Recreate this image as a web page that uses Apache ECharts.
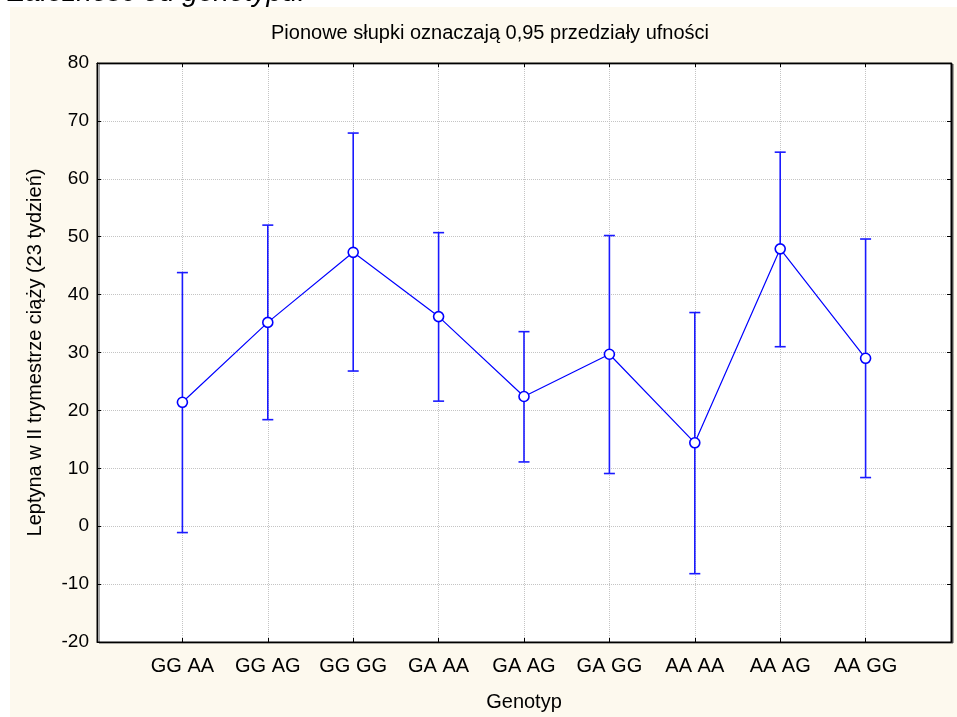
<!DOCTYPE html>
<html>
<head>
<meta charset="utf-8">
<script src="https://cdn.jsdelivr.net/npm/echarts@6/dist/echarts.min.js"></script>
<style>
  html, body { margin: 0; padding: 0; background: #ffffff; overflow: hidden; }
  #panel { position: absolute; left: 10px; top: 7px; width: 947px; height: 710px; background: #fdf9ee; }
  #chart { position: absolute; left: 0; top: 0; width: 957px; height: 717px; }
</style>
</head>
<body>
<div id="panel"></div>
<div id="chart"></div>
<script>
// Genotype groups (x axis)
const categories = ['GG AA', 'GG AG', 'GG GG', 'GA AA', 'GA AG', 'GA GG', 'AA AA', 'AA AG', 'AA GG'];
// Mean leptin level per group
const means = [21.4, 35.2, 47.3, 36.2, 22.4, 29.7, 14.4, 47.9, 29.0];
// 0.95 confidence interval bounds
const upperCI = [43.8, 52.0, 67.9, 50.7, 33.6, 50.2, 36.9, 64.6, 49.6];
const lowerCI = [-1.1, 18.4, 26.8, 21.6, 11.1, 9.1, -8.2, 31.0, 8.4];
// Y axis ticks
const yTicks = [-20, -10, 0, 10, 20, 30, 40, 50, 60, 70, 80];

const FONT = 'Liberation Sans, Arial, sans-serif';
const BLUE = '#0000ff';

const meanPoints = categories.map((c, i) => [i + 1, means[i]]);
const ciPoints = categories.map((c, i) => [i + 1, lowerCI[i], upperCI[i]]);

const dotted = { color: '#c4c4c4', type: [1, 1], width: 1 };
const tickIn = { show: true, inside: true, length: 4, lineStyle: { color: '#000' } };
const frameLine = { show: true, onZero: false, lineStyle: { color: '#000' } };

const chart = echarts.init(document.getElementById('chart'), null, { renderer: 'canvas' });

chart.setOption({
  backgroundColor: 'transparent',
  animation: false,
  graphic: [
    {
      type: 'text',
      x: 8, y: 7,
      style: {
        text: 'Zależność od genotypu.',
        font: 'italic 28px ' + FONT,
        fill: '#000',
        verticalAlign: 'bottom'
      }
    },
    {
      type: 'text',
      x: 490, y: 33,
      style: {
        text: 'Pionowe słupki oznaczają 0,95 przedziały ufności',
        font: '20px ' + FONT,
        fill: '#000',
        align: 'center',
        verticalAlign: 'middle'
      }
    }
  ],
  grid: {
    left: 97, right: 6, top: 63, bottom: 73,
    show: true,
    backgroundColor: '#ffffff',
    borderColor: '#000000',
    borderWidth: 1,
    shadowColor: 'rgba(60,60,60,0.9)',
    shadowOffsetX: 2,
    shadowOffsetY: 1,
    shadowBlur: 0
  },
  xAxis: [
    {
      type: 'value', min: 0, max: 10, interval: 1, position: 'bottom',
      axisLine: frameLine,
      axisTick: tickIn,
      axisLabel: {
        formatter: v => categories[v - 1] || '',
        color: '#000', fontFamily: FONT, fontSize: 20, margin: 14
      },
      splitLine: { show: true, lineStyle: dotted },
      name: 'Genotyp', nameLocation: 'middle', nameGap: 50,
      nameTextStyle: { color: '#000', fontFamily: FONT, fontSize: 20 }
    },
    {
      type: 'value', min: 0, max: 10, interval: 1, position: 'top',
      axisLine: frameLine,
      axisTick: tickIn,
      axisLabel: { show: false },
      splitLine: { show: false }
    }
  ],
  yAxis: [
    {
      type: 'value', min: yTicks[0], max: yTicks[yTicks.length - 1], interval: 10,
      axisLine: frameLine,
      axisTick: tickIn,
      axisLabel: { color: '#000', fontFamily: FONT, fontSize: 19, margin: 8 },
      splitLine: { show: true, lineStyle: dotted },
      name: 'Leptyna w II trymestrze ciąży (23 tydzień)',
      nameLocation: 'middle', nameGap: 52,
      nameTextStyle: { color: '#000', fontFamily: FONT, fontSize: 20 }
    },
    {
      type: 'value', min: yTicks[0], max: yTicks[yTicks.length - 1], interval: 10, position: 'right',
      axisLine: frameLine,
      axisTick: tickIn,
      axisLabel: { show: false },
      splitLine: { show: false }
    }
  ],
  series: [
    {
      type: 'custom',
      name: 'CI',
      xAxisIndex: 0, yAxisIndex: 0,
      data: ciPoints,
      encode: { x: 0, y: [1, 2] },
      z: 3,
      renderItem: function (params, api) {
        const x = api.value(0);
        const lo = api.coord([x, api.value(1)]);
        const hi = api.coord([x, api.value(2)]);
        const cap = 5.5;
        const st = { stroke: '#1a1aff', lineWidth: 1.6 };
        return {
          type: 'group',
          children: [
            { type: 'line', shape: { x1: hi[0], y1: hi[1], x2: lo[0], y2: lo[1] }, style: st },
            { type: 'line', shape: { x1: hi[0] - cap, y1: hi[1], x2: hi[0] + cap, y2: hi[1] }, style: st },
            { type: 'line', shape: { x1: lo[0] - cap, y1: lo[1], x2: lo[0] + cap, y2: lo[1] }, style: st }
          ]
        };
      }
    },
    {
      type: 'line',
      name: 'Średnia',
      xAxisIndex: 0, yAxisIndex: 0,
      data: meanPoints,
      z: 5,
      symbol: 'circle',
      symbolSize: 10,
      lineStyle: { color: BLUE, width: 1.2 },
      itemStyle: { color: '#ffffff', borderColor: BLUE, borderWidth: 1.6 }
    }
  ]
});
</script>
</body>
</html>
